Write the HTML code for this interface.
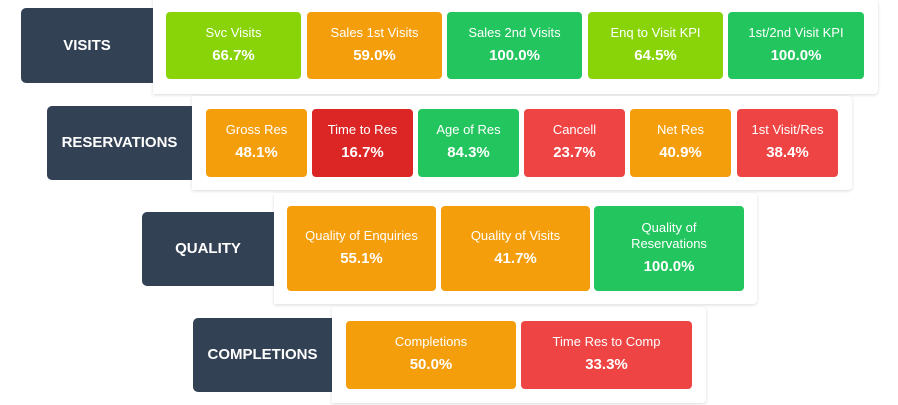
<!DOCTYPE html>
<html><head><style>
body{margin:0;width:898px;height:405px;background:#fff;position:relative;overflow:hidden;font-family:"Liberation Sans",sans-serif}
.lab{position:absolute;background:#334155;color:#fff;font-weight:bold;font-size:15px;display:flex;align-items:center;justify-content:center;border-radius:5px 0 0 5px;padding-bottom:1px;box-sizing:border-box}
.pan{position:absolute;background:#fff;border-radius:0 4px 4px 0;box-shadow:0 1px 3px rgba(0,0,0,.15)}
.t{position:absolute;color:#fff;border-radius:4px;text-align:center;display:flex;flex-direction:column;justify-content:center;align-items:center;padding-bottom:3px;box-sizing:border-box}
.t .a{font-size:13px;line-height:16px}
.t .b{font-size:15px;font-weight:bold;margin-top:6px}
.g{background:#22c55e}.o{background:#f59e0b}.l{background:#88d408}.r{background:#ef4444}.d{background:#dc2626}
</style></head><body>
<div class="pan" style="left:153px;top:-1px;width:725px;height:95px"></div>
<div class="lab" style="left:21px;top:8px;width:132px;height:75px">VISITS</div>
<div class="t l" style="left:166px;top:12px;width:135px;height:67px"><div class="a">Svc Visits</div><div class="b">66.7%</div></div>
<div class="t o" style="left:307px;top:12px;width:135px;height:67px"><div class="a">Sales 1st Visits</div><div class="b">59.0%</div></div>
<div class="t g" style="left:447px;top:12px;width:135px;height:67px"><div class="a">Sales 2nd Visits</div><div class="b">100.0%</div></div>
<div class="t l" style="left:588px;top:12px;width:135px;height:67px"><div class="a">Enq to Visit KPI</div><div class="b">64.5%</div></div>
<div class="t g" style="left:728px;top:12px;width:136px;height:67px"><div class="a">1st/2nd Visit KPI</div><div class="b">100.0%</div></div>

<div class="pan" style="left:192px;top:96px;width:660px;height:94px"></div>
<div class="lab" style="left:47px;top:106px;width:145px;height:74px">RESERVATIONS</div>
<div class="t o" style="left:206px;top:109px;width:101px;height:68px"><div class="a">Gross Res</div><div class="b">48.1%</div></div>
<div class="t d" style="left:312px;top:109px;width:101px;height:68px"><div class="a">Time to Res</div><div class="b">16.7%</div></div>
<div class="t g" style="left:418px;top:109px;width:101px;height:68px"><div class="a">Age of Res</div><div class="b">84.3%</div></div>
<div class="t r" style="left:524px;top:109px;width:101px;height:68px"><div class="a">Cancell</div><div class="b">23.7%</div></div>
<div class="t o" style="left:630px;top:109px;width:101px;height:68px"><div class="a">Net Res</div><div class="b">40.9%</div></div>
<div class="t r" style="left:737px;top:109px;width:101px;height:68px"><div class="a">1st Visit/Res</div><div class="b">38.4%</div></div>

<div class="pan" style="left:274px;top:193px;width:483px;height:111px"></div>
<div class="lab" style="left:142px;top:212px;width:132px;height:74px">QUALITY</div>
<div class="t o" style="left:287px;top:206px;width:149px;height:85px"><div class="a">Quality of Enquiries</div><div class="b">55.1%</div></div>
<div class="t o" style="left:441px;top:206px;width:149px;height:85px"><div class="a">Quality of Visits</div><div class="b">41.7%</div></div>
<div class="t g" style="left:594px;top:206px;width:150px;height:85px"><div class="a">Quality of<br>Reservations</div><div class="b">100.0%</div></div>

<div class="pan" style="left:332px;top:307px;width:374px;height:96px"></div>
<div class="lab" style="left:193px;top:318px;width:139px;height:74px">COMPLETIONS</div>
<div class="t o" style="left:346px;top:321px;width:170px;height:68px"><div class="a">Completions</div><div class="b">50.0%</div></div>
<div class="t r" style="left:521px;top:321px;width:171px;height:68px"><div class="a">Time Res to Comp</div><div class="b">33.3%</div></div>
</body></html>
